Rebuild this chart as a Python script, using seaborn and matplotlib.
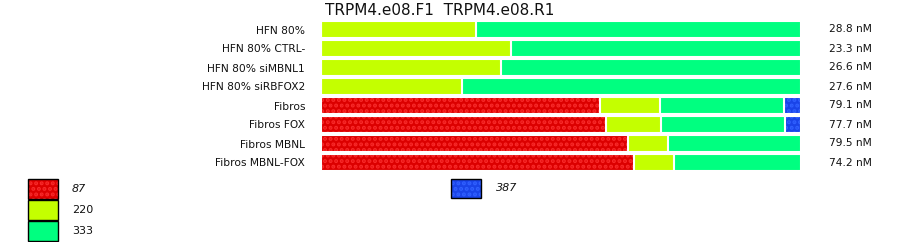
import matplotlib
matplotlib.use("Agg")
import matplotlib.pyplot as plt
import seaborn as sns
import pandas as pd
import numpy as np
from matplotlib.patches import Rectangle

# ---- data ----
categories = ["HFN 80%", "HFN 80% CTRL-", "HFN 80% siMBNL1", "HFN 80% siRBFOX2",
              "Fibros", "Fibros FOX", "Fibros MBNL", "Fibros MBNL-FOX"]
seg_87 = [0, 0, 0, 0, 58.2, 59.4, 64.0, 65.2]
seg_220 = [32.3, 39.5, 37.4, 29.4, 12.5, 11.4, 8.3, 8.3]
seg_333 = [67.7, 60.5, 62.6, 70.6, 25.8, 25.8, 27.7, 26.5]
seg_387 = [0, 0, 0, 0, 3.5, 3.4, 0, 0]
concentrations = ["28.8 nM", "23.3 nM", "26.6 nM", "27.6 nM",
                  "79.1 nM", "77.7 nM", "79.5 nM", "74.2 nM"]
legend_labels = ["87", "220", "333", "387"]
title = "TRPM4.e08.F1  TRPM4.e08.R1"

W, H = 900, 242
sns.set_theme(style="white")
plt.rcParams["font.family"] = ["DejaVu Sans"]
plt.rcParams["hatch.linewidth"] = 2.0

fig = plt.figure(figsize=(W / 100, H / 100), dpi=100)
ax = fig.add_axes([321 / W, (H - 172) / H, 480 / W, 152 / H])

df = pd.DataFrame({"cat": categories, "s87": seg_87, "s220": seg_220,
                   "s333": seg_333, "s387": seg_387})
df["c87"] = df["s87"]
df["c220"] = df["c87"] + df["s220"]
df["c333"] = df["c220"] + df["s333"]
df["c387"] = df["c333"] + df["s387"]

layers = [
    ("c387", "#1a44e8", "#3060ff", "..."),
    ("c333", "#00ff80", None, None),
    ("c220", "#c4ff00", None, None),
    ("c87", "#dc0000", "#f82a2a", "..."),
]
bw = 17 / 19
for col, fc, hc, hatch in layers:
    kw = dict(x=col, y="cat", data=df, order=categories, orient="h",
              color=fc, saturation=1, errorbar=None, width=bw, ax=ax)
    if hatch:
        sns.barplot(**kw, hatch=hatch, edgecolor=hc, linewidth=0)
    else:
        sns.barplot(**kw, linewidth=0)
    # white separators
    sns.barplot(x=col, y="cat", data=df, order=categories, orient="h",
                fill=False, errorbar=None, width=bw, ax=ax,
                edgecolor="white", linewidth=1.5)

ax.set_xlim(0, 100)
ax.set_ylim(7.5, -0.5)
for s in ax.spines.values():
    s.set_visible(False)
ax.set_xticks([])
ax.set_xlabel("")
ax.set_ylabel("")
ax.tick_params(axis="y", length=0, pad=11.5, labelsize=7.7, labelcolor="#111111")

for i, c in enumerate(concentrations):
    ax.text(1.0 + (829 - 801) / 480, i, c, transform=ax.get_yaxis_transform(),
            ha="left", va="center", fontsize=7.7, color="#111111")

fig.text(325 / W, 1 - 15 / H, title, ha="left", va="baseline", fontsize=11, color="#111111")

# legend
def legbox(x0, y0, w, h, fc, hc=None, hatch=None):
    r = Rectangle((x0 / W, 1 - (y0 + h) / H), w / W, h / H, transform=fig.transFigure,
                  facecolor=fc, edgecolor=hc if hc else fc, hatch=hatch, linewidth=0)
    fig.add_artist(r)
    r2 = Rectangle((x0 / W, 1 - (y0 + h) / H), w / W, h / H, transform=fig.transFigure,
                   fill=False, edgecolor="black", linewidth=1.0)
    fig.add_artist(r2)

legbox(28, 179, 30, 20, "#dc0000", "#f82a2a", "...")
legbox(28, 200, 30, 20, "#c4ff00")
legbox(28, 221, 30, 20, "#00ff80")
legbox(451, 179, 30, 19, "#1a44e8", "#3060ff", "...")

fig.text(72 / W, 1 - 189 / H, legend_labels[0], style="italic", fontsize=8, va="center", color="#111111")
fig.text(72 / W, 1 - 210 / H, legend_labels[1], fontsize=8, va="center", color="#111111")
fig.text(72 / W, 1 - 231 / H, legend_labels[2], fontsize=8, va="center", color="#111111")
fig.text(496 / W, 1 - 188 / H, legend_labels[3], style="italic", fontsize=8, va="center", color="#111111")

fig.savefig("out.png", dpi=100)
